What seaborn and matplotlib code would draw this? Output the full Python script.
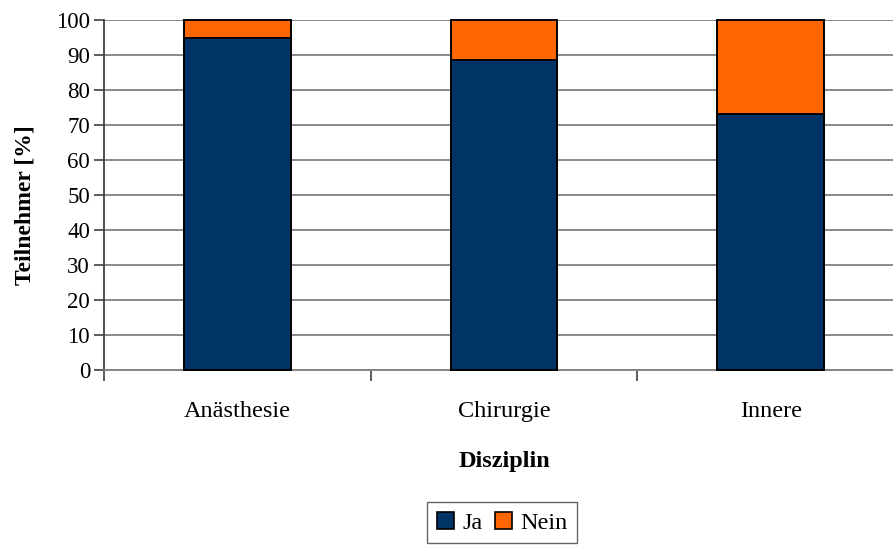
import matplotlib
matplotlib.use("Agg")
import matplotlib.pyplot as plt
import seaborn as sns
import pandas as pd

disziplinen = ["Anästhesie", "Chirurgie", "Innere"]
ja = [95, 88.6, 73.1]
nein = [5, 11.4, 26.9]
y_ticks = [0, 10, 20, 30, 40, 50, 60, 70, 80, 90, 100]

sns.set_theme(style="white")
plt.rcParams["font.family"] = ["Liberation Serif", "DejaVu Serif"]
plt.rcParams["text.color"] = "black"
plt.rcParams["axes.labelcolor"] = "black"
plt.rcParams["xtick.color"] = "black"
plt.rcParams["ytick.color"] = "black"

col_ja = "#003366"
col_nein = "#FF6600"

df = pd.DataFrame({"Disziplin": disziplinen, "Ja": ja, "Nein": nein})
df["Gesamt"] = df["Ja"] + df["Nein"]

fig = plt.figure(figsize=(8.93, 5.45), dpi=100)
ax = fig.add_axes([104 / 893, 1 - 370 / 545, (904 - 104) / 893, (370 - 20) / 545])

sns.barplot(data=df, x="Disziplin", y="Gesamt", color=col_nein, saturation=1,
            width=0.4, edgecolor="black", linewidth=1.4, ax=ax, label="Nein",
            zorder=3, legend=False)
sns.barplot(data=df, x="Disziplin", y="Ja", color=col_ja, saturation=1,
            width=0.4, edgecolor="black", linewidth=1.4, ax=ax, label="Ja",
            zorder=3, legend=False)
for p in ax.patches:
    p.set_clip_on(False)
if ax.get_legend() is not None:
    ax.get_legend().remove()

ax.set_xlim(-0.5, 2.5)
ax.set_ylim(0, 100)
ax.set_yticks(y_ticks)
ax.yaxis.grid(True, color="#808080", linewidth=1.3, zorder=0)
ax.set_axisbelow(True)

for s in ["top", "right"]:
    ax.spines[s].set_visible(False)
ax.spines["left"].set_color("#404040")
ax.spines["left"].set_linewidth(1.3)
ax.spines["bottom"].set_color("#808080")
ax.spines["bottom"].set_linewidth(1.3)

ax.set_xticks([-0.5, 0.5, 1.5, 2.5], minor=False)
ax.set_xticklabels([])
ax.set_xticks([0, 1, 2], minor=True)
ax.set_xticklabels(disziplinen, minor=True, fontsize=17.5)
ax.tick_params(axis="x", which="major", direction="out", length=8, width=1.2,
               color="#404040", bottom=True)
ax.tick_params(axis="x", which="minor", length=0, pad=22)
ax.tick_params(axis="y", direction="out", length=7, width=1.2, color="#404040",
               labelsize=16.5, pad=3, left=True)

ax.set_ylabel("Teilnehmer [%]", fontsize=17, fontweight="bold")
ax.yaxis.set_label_coords(-0.085, 0.47)
ax.set_xlabel("Disziplin", fontsize=17.5, fontweight="bold", labelpad=21)

handles = [plt.Rectangle((0, 0), 1, 1, facecolor=col_ja, edgecolor="black", linewidth=1.2),
           plt.Rectangle((0, 0), 1, 1, facecolor=col_nein, edgecolor="black", linewidth=1.2)]
leg = fig.legend(handles, ["Ja", "Nein"],
                 loc="upper center", bbox_to_anchor=(502 / 893, 1 - 502 / 545),
                 borderaxespad=0, ncol=2, fontsize=17.5, frameon=True,
                 fancybox=False, edgecolor="#404040", handlelength=0.7,
                 handleheight=0.7, handletextpad=0.35, columnspacing=0.5,
                 borderpad=0.4)
leg.get_frame().set_linewidth(1.0)

fig.savefig("out.png", dpi=100)
